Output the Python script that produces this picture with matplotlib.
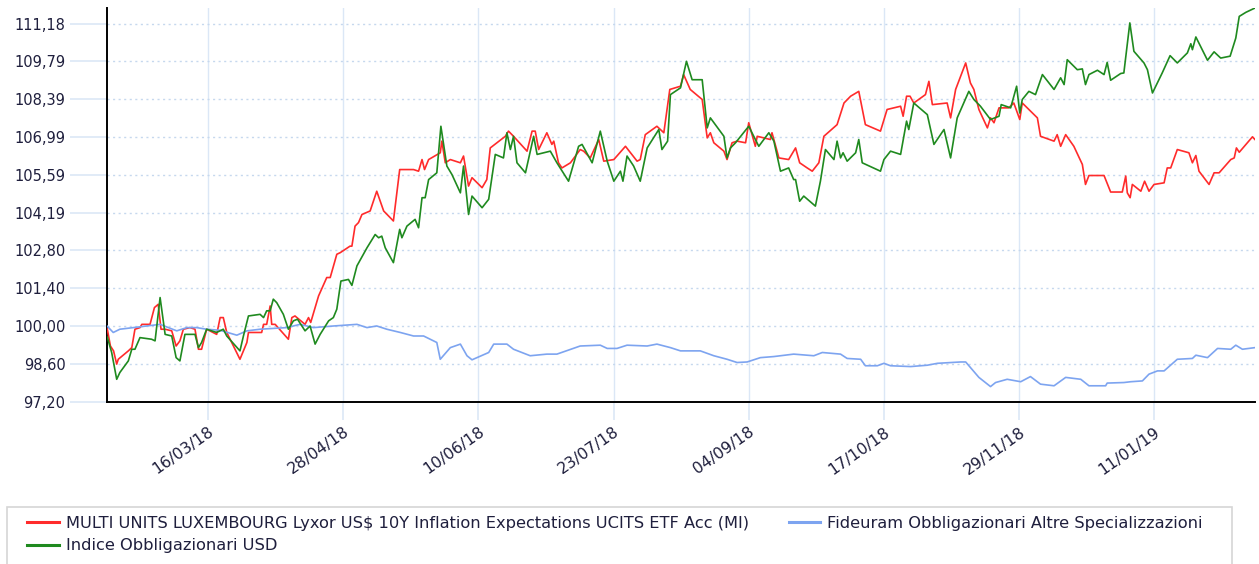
import matplotlib
matplotlib.use("Agg")
import matplotlib.pyplot as plt
from matplotlib.patches import Rectangle
from matplotlib.lines import Line2D
import pandas as pd

# Series start date; points are given as day offsets from it
START = "2018-02-12"
END_DAYS = 365

lyxor_days = [0, 1, 2, 3, 3.5, 6.7, 7.8, 8.8, 10.4, 11.0, 13.6, 15.0, 16.2, 17.1, 18.4, 20.5,
              21.9, 23.1, 24.2, 26.3, 27.9, 29.0, 30.0, 31.6, 34.8, 35.9, 36.9, 38.0, 42.2, 44.4,
              44.9, 49.1, 49.7, 50.7, 51.8, 52.3, 53.4, 57.6, 58.7, 59.7, 62.9, 64.0, 64.7, 67.2,
              69.8, 70.9, 73.0, 74.1, 77.2, 77.8, 78.8, 79.9, 81.0, 83.6, 85.7, 87.9, 91.0, 93.0,
              97.4, 99.0, 100.1, 100.9, 102.2, 105.9, 106.4, 107.5, 109.1, 112.3, 113.3, 114.9,
              116.0, 119.2, 120.7, 121.8, 126.6, 127.6, 129.2, 133.5, 135.1, 136.1, 137.2, 139.8,
              141.4, 142.0, 143.5, 144.6, 147.3, 150.4, 151.5, 153.6, 156.3, 157.9, 161.1, 164.8,
              168.5, 169.5, 171.1, 174.8, 177.0, 178.9, 182.3, 183.3, 185.4, 189.2, 190.8, 191.8,
              192.9, 196.1, 197.1, 198.7, 200.3, 203.0, 204.0, 206.1, 206.7, 210.9, 211.4, 213.6,
              216.7, 218.9, 220.2, 222.6, 224.2, 226.3, 227.9, 232.1, 234.3, 236.4, 239.0, 241.1,
              245.9, 248.0, 252.3, 253.1, 254.2, 255.3, 256.5, 260.2, 261.3, 262.4, 267.1, 268.2,
              269.8, 273.0, 274.5, 275.6, 277.2, 279.9, 280.9, 282.0, 283.6, 286.7, 288.3, 290.2,
              291.0, 295.8, 296.8, 301.1, 302.1, 303.2, 304.8, 307.4, 310.1, 311.1, 312.2, 317.0,
              319.1, 322.8, 323.9, 324.4, 325.3, 326.0, 328.7, 329.9, 331.3, 332.9, 336.1, 337.1,
              338.2, 340.3, 344.0, 345.1, 346.2, 347.2, 350.4, 352.0, 353.6, 357.3, 358.4, 359.1,
              360.0, 364.2, 365.0]
lyxor_vals = [99.90, 99.27, 99.09, 98.60, 98.78, 99.09, 99.21, 99.89, 99.95, 100.07, 100.07, 100.69,
              100.81, 99.89, 99.89, 99.83, 99.27, 99.46, 99.89, 99.95, 99.89, 99.15, 99.15, 99.89,
              99.70, 100.32, 100.32, 99.77, 98.78, 99.40, 99.77, 99.77, 100.07, 100.07, 100.75,
              100.07, 100.07, 99.52, 100.32, 100.38, 100.07, 100.32, 100.14, 101.12, 101.80, 101.80,
              102.66, 102.72, 102.96, 102.96, 103.70, 103.83, 104.13, 104.26, 104.99, 104.26, 103.89,
              105.79, 105.79, 105.73, 106.16, 105.79, 106.16, 106.41, 106.84, 106.04, 106.16, 106.04,
              106.29, 105.18, 105.49, 105.12, 105.42, 106.59, 107.02, 107.21, 107.02, 106.47, 107.21,
              107.21, 106.53, 107.15, 106.72, 106.84, 106.04, 105.85, 106.04, 106.53, 106.47, 106.22,
              106.90, 106.10, 106.16, 106.65, 106.10, 106.16, 107.08, 107.39, 107.15, 108.75, 108.87,
              109.30, 108.75, 108.38, 106.96, 107.15, 106.78, 106.47, 106.16, 106.78, 106.84, 106.78,
              107.52, 106.65, 107.02, 106.90, 107.15, 106.22, 106.16, 106.59, 106.04, 105.85, 105.73,
              106.04, 107.02, 107.45, 108.25, 108.50, 108.68, 107.45, 107.21, 108.01, 108.13, 107.76,
              108.50, 108.50, 108.25, 108.56, 109.05, 108.19, 108.25, 107.70, 108.75, 109.73, 108.99,
              108.75, 108.01, 107.33, 107.70, 107.52, 108.07, 108.07, 108.25, 107.64, 108.25, 107.70,
              107.02, 106.84, 107.08, 106.65, 107.08, 106.65, 105.98, 105.24, 105.57, 105.57, 104.96,
              104.96, 105.55, 104.93, 104.75, 105.24, 104.99, 105.36, 104.99, 105.24, 105.30, 105.85,
              105.85, 106.53, 106.41, 106.04, 106.31, 105.73, 105.24, 105.67, 105.67, 106.16, 106.22,
              106.59, 106.43, 107.00, 106.90]

indice_days = [0, 1.4, 3.0, 4.0, 6.7, 7.8, 8.8, 10.4, 14.1, 15.2, 16.8, 18.4, 20.5, 21.9, 23.1, 24.7,
               27.9, 29.0, 30.0, 31.6, 34.8, 36.9, 38.0, 42.2, 43.3, 44.9, 48.6, 49.7, 50.7, 51.8,
               52.8, 53.9, 56.0, 57.6, 59.2, 60.5, 62.9, 64.5, 66.1, 67.7, 70.4, 71.9, 73.0, 74.3,
               76.7, 77.8, 79.4, 82.6, 85.2, 86.3, 87.3, 88.4, 91.0, 93.0, 93.7, 95.3, 97.9, 99.0,
               100.1, 101.1, 102.2, 104.8, 106.1, 108.0, 109.6, 112.3, 113.3, 114.9, 116.0, 119.2,
               121.3, 123.4, 126.0, 127.1, 128.2, 129.2, 130.3, 133.0, 135.6, 136.7, 140.9, 143.0,
               146.7, 149.9, 151.0, 154.2, 156.8, 159.0, 161.1, 163.2, 164.0, 165.3, 167.4, 169.5,
               171.7, 175.4, 176.4, 178.2, 179.1, 182.3, 184.2, 186.0, 189.2, 190.8, 191.8, 196.1,
               197.1, 198.2, 199.8, 204.0, 207.2, 210.4, 212.0, 214.1, 216.7, 218.3, 218.9, 220.2,
               221.5, 225.2, 226.8, 228.4, 231.1, 232.1, 233.2, 234.0, 235.3, 238.0, 239.0, 240.1,
               245.9, 247.0, 249.1, 252.3, 254.2, 254.9, 256.5, 260.8, 262.9, 266.1, 268.2, 270.3,
               274.0, 275.6, 277.7, 280.9, 283.6, 284.3, 287.3, 289.2, 290.2, 291.0, 293.1, 295.2,
               297.4, 301.1, 303.2, 304.3, 305.3, 308.5, 310.1, 311.1, 312.2, 314.9, 317.0, 318.0,
               319.1, 322.3, 323.3, 325.2, 326.5, 329.7, 330.8, 332.4, 335.5, 338.0, 340.3, 343.5,
               344.6, 345.1, 346.2, 349.9, 352.0, 354.1, 357.1, 358.9, 360.0, 362.1, 365.0]
indice_vals = [99.60, 99.03, 98.04, 98.29, 98.72, 99.15, 99.15, 99.58, 99.52, 99.46, 101.06, 99.70,
               99.64, 98.84, 98.72, 99.70, 99.70, 99.21, 99.40, 99.89, 99.77, 99.89, 99.64, 99.09,
               99.64, 100.38, 100.44, 100.32, 100.57, 100.57, 101.00, 100.87, 100.44, 99.89, 100.20,
               100.26, 99.83, 100.01, 99.34, 99.70, 100.20, 100.32, 100.63, 101.67, 101.73, 101.51,
               102.23, 102.90, 103.39, 103.27, 103.33, 102.90, 102.35, 103.58, 103.27, 103.70, 103.95,
               103.64, 104.75, 104.75, 105.42, 105.67, 107.39, 105.92, 105.61, 104.93, 105.92, 104.13,
               104.81, 104.38, 104.69, 106.35, 106.22, 107.15, 106.53, 107.02, 106.04, 105.67, 107.02,
               106.35, 106.47, 106.04, 105.36, 106.65, 106.72, 106.04, 107.21, 106.10, 105.36, 105.73,
               105.36, 106.29, 105.92, 105.36, 106.59, 107.27, 106.53, 106.84, 108.56, 108.81, 109.79,
               109.11, 109.11, 107.33, 107.70, 107.02, 106.22, 106.59, 106.78, 107.39, 106.65, 107.15,
               106.84, 105.73, 105.85, 105.42, 105.42, 104.62, 104.81, 104.44, 105.36, 106.53, 106.16,
               106.84, 106.22, 106.41, 106.10, 106.41, 106.90, 106.04, 105.73, 106.16, 106.47, 106.35,
               107.58, 107.27, 108.25, 107.82, 106.72, 107.27, 106.22, 107.70, 108.68, 108.38, 108.13,
               107.64, 107.76, 108.19, 108.07, 108.87, 107.88, 108.38, 108.68, 108.56, 109.30, 108.75,
               109.18, 108.93, 109.85, 109.48, 109.51, 108.93, 109.30, 109.46, 109.30, 109.75, 109.09,
               109.34, 109.36, 111.21, 110.16, 109.73, 109.48, 108.62, 109.36, 110.00, 109.73, 110.10,
               110.44, 110.22, 110.69, 109.83, 110.14, 109.91, 109.98, 110.65, 111.45, 111.60, 111.76]

fideuram_days = [0, 1.9, 4.0, 8.3, 16.8, 22.1, 25.3, 28.4, 31.6, 35.9, 41.2, 44.4, 48.6, 57.1, 61.3,
                 65.6, 72.0, 79.4, 82.6, 85.7, 88.9, 93.2, 97.4, 100.6, 104.8, 105.9, 109.1, 112.3,
                 114.4, 116.0, 121.3, 122.9, 127.1, 129.2, 134.5, 139.8, 143.0, 150.4, 156.8, 159.0,
                 162.1, 165.3, 171.7, 174.8, 179.1, 182.3, 188.6, 192.9, 197.1, 200.3, 203.5, 207.7,
                 212.0, 218.3, 224.7, 227.4, 233.2, 235.3, 239.6, 241.1, 244.9, 247.0, 249.1, 255.5,
                 260.8, 264.0, 271.4, 273.0, 277.2, 280.9, 282.5, 286.2, 290.5, 293.6, 296.8, 301.1,
                 304.8, 309.6, 312.2, 317.5, 318.0, 323.3, 325.5, 329.2, 331.3, 334.0, 336.1, 340.3,
                 345.1, 346.2, 349.9, 353.1, 357.3, 358.9, 361.0, 365.0]
fideuram_vals = [100.00, 99.77, 99.89, 99.95, 100.07, 99.83, 99.95, 99.95, 99.89, 99.85, 99.67, 99.83,
                 99.89, 99.95, 100.07, 99.95, 100.01, 100.07, 99.95, 100.01, 99.89, 99.77, 99.64,
                 99.64, 99.40, 98.78, 99.21, 99.34, 98.91, 98.76, 99.03, 99.34, 99.34, 99.15, 98.91,
                 98.97, 98.97, 99.27, 99.30, 99.18, 99.18, 99.30, 99.27, 99.34, 99.21, 99.09, 99.09,
                 98.91, 98.78, 98.66, 98.68, 98.84, 98.88, 98.97, 98.91, 99.03, 98.97, 98.81, 98.78,
                 98.54, 98.54, 98.63, 98.54, 98.51, 98.56, 98.63, 98.68, 98.68, 98.11, 97.77, 97.92,
                 98.04, 97.95, 98.14, 97.86, 97.80, 98.11, 98.04, 97.80, 97.80, 97.90, 97.92, 97.95,
                 97.98, 98.23, 98.35, 98.35, 98.78, 98.81, 98.93, 98.84, 99.18, 99.15, 99.30, 99.15,
                 99.21]

labels = [
    "MULTI UNITS LUXEMBOURG Lyxor US$ 10Y Inflation Expectations UCITS ETF Acc (MI)",
    "Indice Obbligazionari USD",
    "Fideuram Obbligazionari Altre Specializzazioni",
]

y_ticks = [97.20, 98.60, 100.00, 101.40, 102.80, 104.19, 105.59, 106.99, 108.39, 109.79, 111.18]
x_tick_dates = ["2018-03-16", "2018-04-28", "2018-06-10", "2018-07-23",
                "2018-09-04", "2018-10-17", "2018-11-29", "2019-01-11"]

TEXT = "#1f1f3d"
GRID = "#dbe7f6"


def to_dates(days):
    return pd.Timestamp(START) + pd.to_timedelta(days, unit="D")


fig = plt.figure(figsize=(12.59, 5.64), dpi=100)
ax = fig.add_axes([0.0852, 0.2872, 0.9116, 0.6986])

ax.plot(to_dates(lyxor_days), lyxor_vals, color="#ff2b2b", lw=1.2, zorder=3)
ax.plot(to_dates(fideuram_days), fideuram_vals, color="#7da4f0", lw=1.2, zorder=3)
ax.plot(to_dates(indice_days), indice_vals, color="#1f8a1f", lw=1.2, zorder=4)

ax.set_xlim(pd.Timestamp(START), pd.Timestamp(START) + pd.Timedelta(days=END_DAYS))
ax.set_ylim(97.20, 111.76)

ax.set_yticks(y_ticks)
ax.set_yticklabels([f"{v:.2f}".replace(".", ",") for v in y_ticks])
xt = pd.to_datetime(x_tick_dates)
ax.set_xticks(xt)
ax.set_xticklabels([d.strftime("%d/%m/%y") for d in xt], rotation=35,
                   ha="right", va="top", rotation_mode="anchor")

ax.grid(axis="y", linestyle=(0, (1.5, 2.5)), color="#c6d8ee", lw=1)
ax.grid(axis="x", linestyle="-", color=GRID, lw=1)
ax.set_axisbelow(True)

ax.tick_params(axis="y", length=27, width=1.2, color=GRID, pad=3, labelsize=10.5, labelcolor=TEXT)
ax.tick_params(axis="x", length=13, width=1.2, color=GRID, pad=3, labelsize=11.3, labelcolor=TEXT)

ax.spines[["top", "right"]].set_visible(False)
ax.spines[["left", "bottom"]].set_linewidth(1.4)
ax.spines[["left", "bottom"]].set_color("black")

# legend box, cut off at the bottom edge like the reference
fig.patches.append(Rectangle((7 / 1259, -0.1), 1225 / 1259, 0.1 + 1 - 507 / 564,
                             transform=fig.transFigure, facecolor="white",
                             edgecolor="#d6d6d6", lw=1.2))
handles = [Line2D([], [], color="#ff2b2b", lw=2.2),
           Line2D([], [], color="#1f8a1f", lw=2.2),
           Line2D([], [], color="#7da4f0", lw=2.2)]
fig.legend(handles, labels, loc="upper left", bbox_to_anchor=(19 / 1259, 1 - 508 / 564),
           ncol=2, frameon=False, fontsize=11.7, labelcolor=TEXT, borderpad=0,
           handlelength=1.95, handletextpad=0.43, columnspacing=2.45, labelspacing=0.45)

fig.savefig("out.png", dpi=100)
